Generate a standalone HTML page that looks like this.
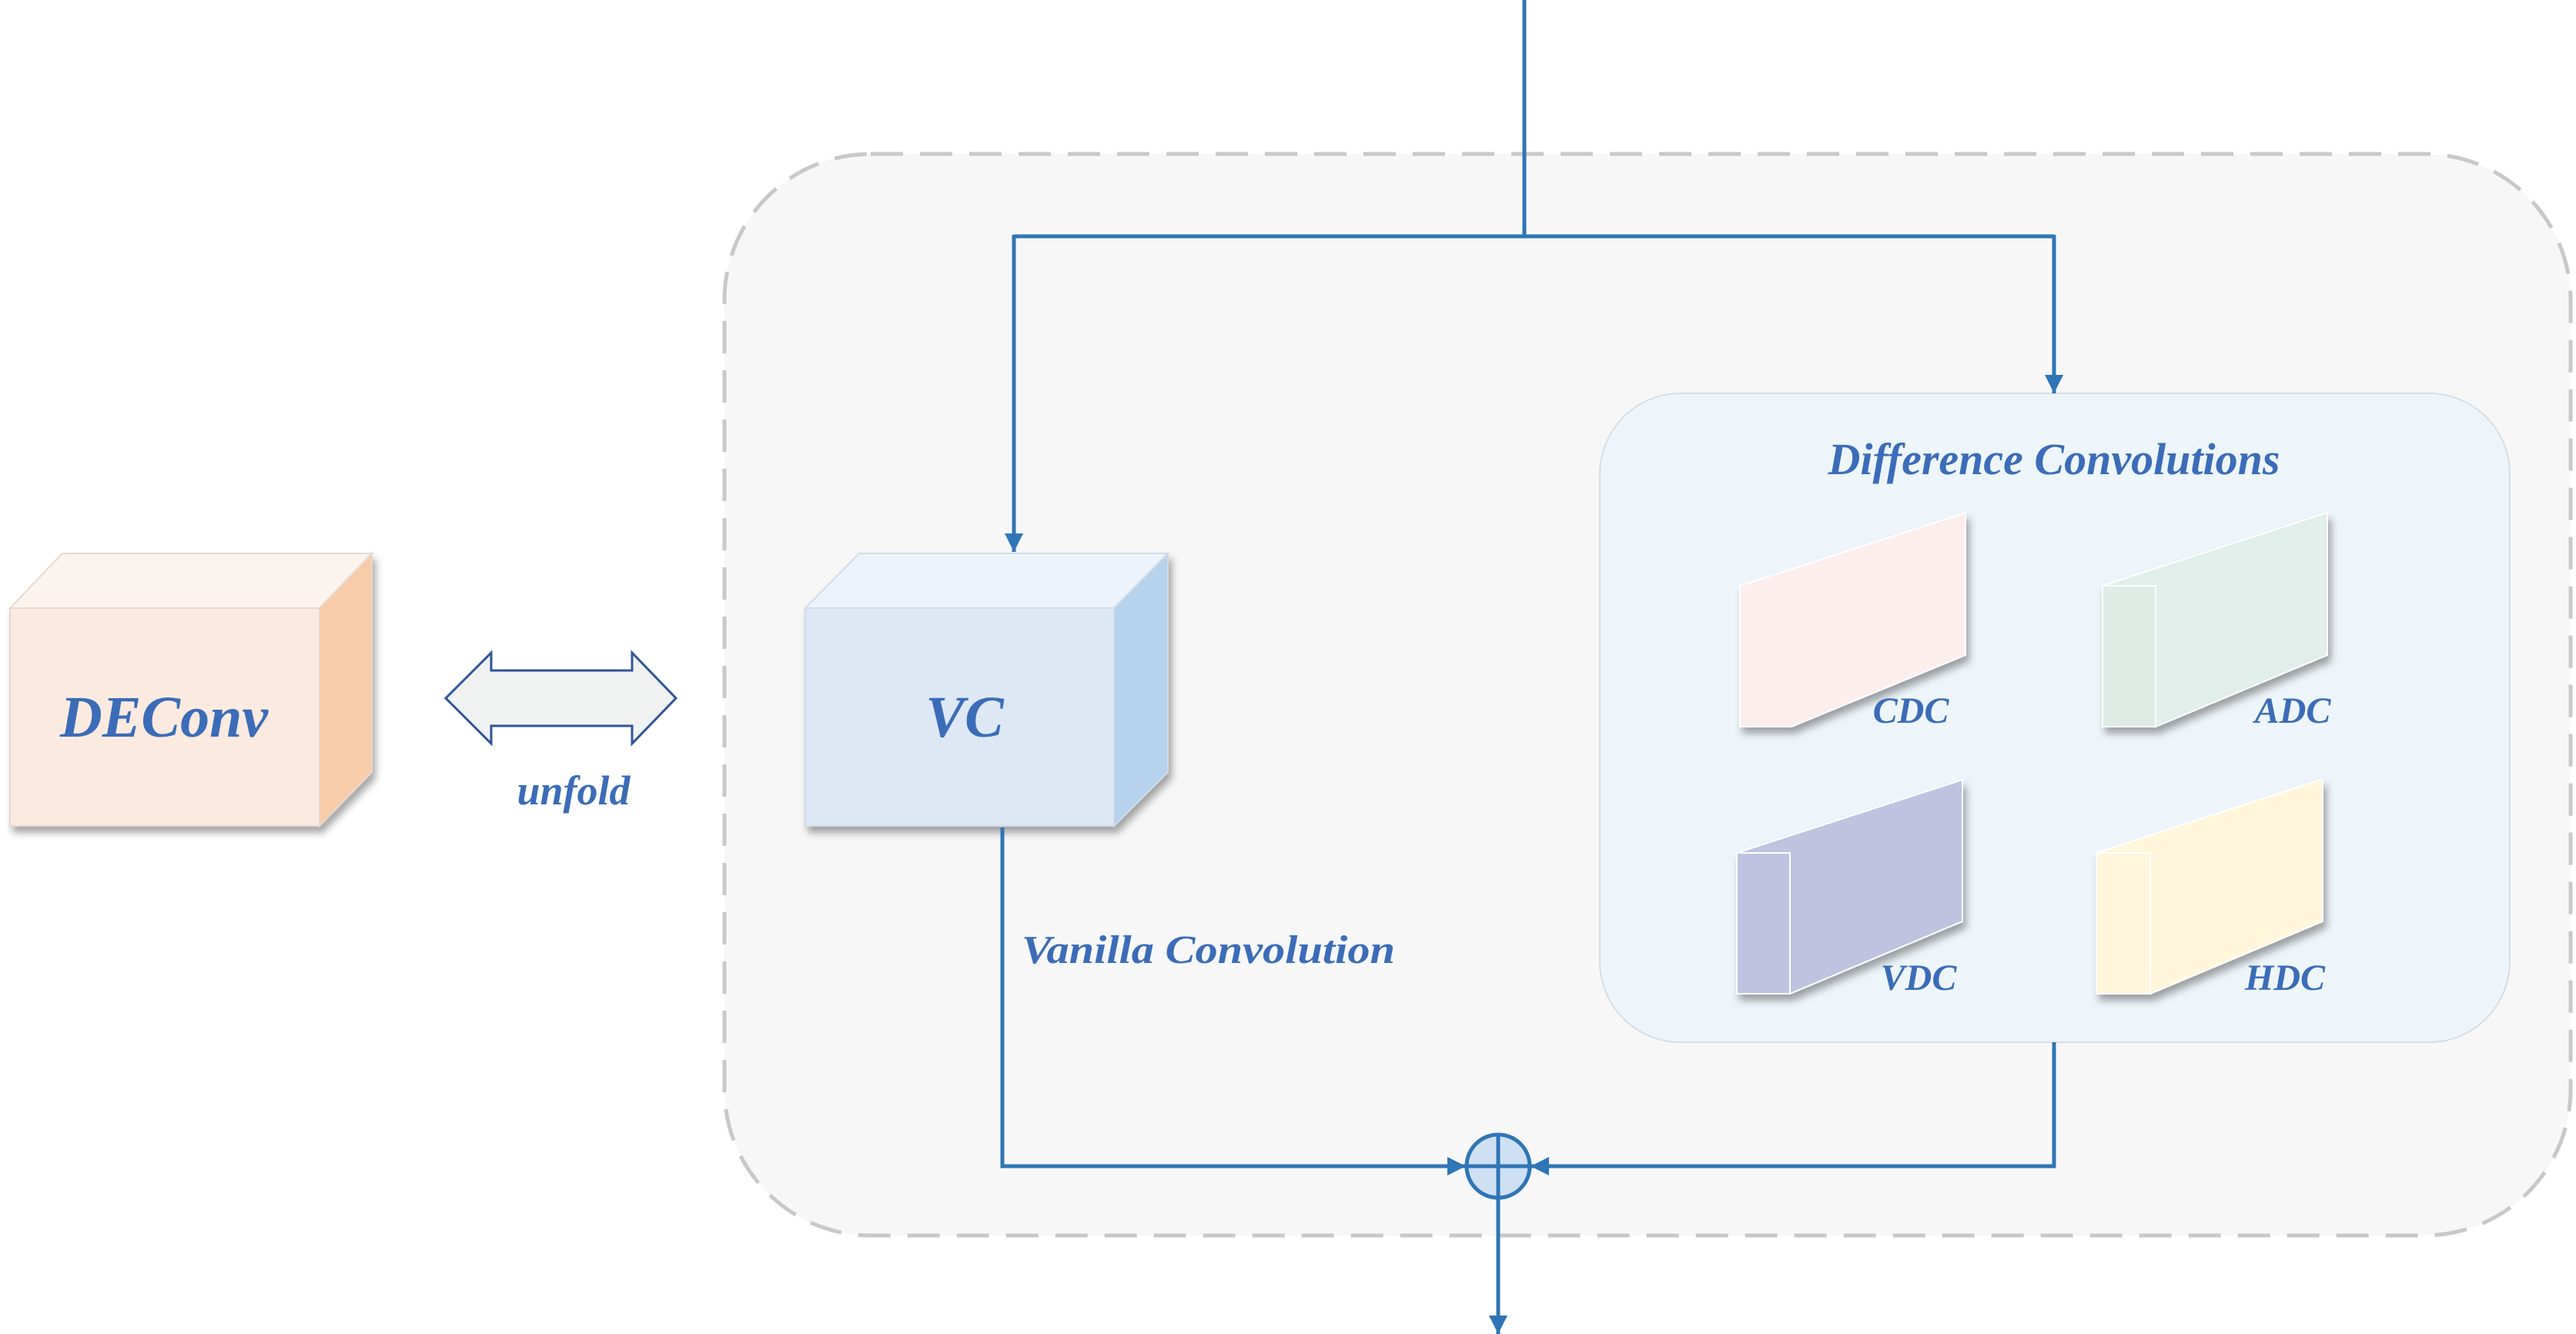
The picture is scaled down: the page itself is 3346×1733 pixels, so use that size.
<!DOCTYPE html>
<html><head><meta charset="utf-8"><style>
html,body{margin:0;padding:0;background:#fff;}
svg{display:block;}
text{font-family:"Liberation Serif",serif;font-weight:bold;font-style:italic;fill:#3b6cb7;}
</style></head><body>
<svg width="3346" height="1733" viewBox="0 0 3346 1733" xmlns="http://www.w3.org/2000/svg">
<defs>
<marker id="a" viewBox="0 0 10 10" refX="10" refY="5" markerWidth="26" markerHeight="24" orient="auto" markerUnits="userSpaceOnUse"><path d="M0,0 L10,5 L0,10 z" fill="#2e75b6"/></marker>
<filter id="sh" x="-10%" y="-10%" width="130%" height="130%"><feDropShadow dx="4" dy="8" stdDeviation="5" flood-color="#000" flood-opacity="0.35"/></filter>
</defs>
<rect x="941" y="200" width="2398" height="1405" rx="190" ry="190" fill="#f7f7f7" stroke="#c8c8c8" stroke-width="5" stroke-dasharray="42,22"/>
<rect x="2078" y="511" width="1182" height="843" rx="105" ry="105" fill="#eef5fa" stroke="#d6dde3" stroke-width="2"/>
<g filter="url(#sh)">
<polygon points="13,790 415,790 483,719 81,719" fill="#fbf3ee" stroke="#e6d8d0" stroke-width="2"/>
<polygon points="415,790 483,719 483,1003 415,1073" fill="#f8cca8" stroke="#e6d8d0" stroke-width="2"/>
<rect x="13" y="790" width="402" height="283" fill="#fbeadf" stroke="#e6d8d0" stroke-width="2"/>
</g>
<text x="213" y="957" font-size="76" text-anchor="middle">DEConv</text>
<polygon points="579,907 638,848 638,871 821,871 821,848 878,907 821,966 821,943 638,943 638,966" fill="#f0f1f1" stroke="#2f5597" stroke-width="3"/>
<text x="745" y="1045" font-size="54" text-anchor="middle">unfold</text>
<g filter="url(#sh)">
<polygon points="1046,790 1447,790 1517,719 1116,719" fill="#edf3fa" stroke="#cfdcea" stroke-width="2"/>
<polygon points="1447,790 1517,719 1517,1003 1447,1073" fill="#b6d2ec" stroke="#cfdcea" stroke-width="2"/>
<rect x="1046" y="790" width="401" height="283" fill="#dde8f4" stroke="#cfdcea" stroke-width="2"/>
</g>
<text x="1253" y="957" font-size="76" text-anchor="middle">VC</text>
<g filter="url(#sh)">
<polygon points="2260,761 2553,666 2553,851 2327,944 2260,944" fill="#fdeeee" stroke="#fff" stroke-width="2"/>
<polygon points="2731,761 2800,761 2800,944 2731,944" fill="#dfece6" stroke="#fff" stroke-width="2"/>
<polygon points="2731,761 3023,666 3023,851 2800,944 2800,761" fill="#e1eee9" stroke="#fff" stroke-width="2"/>
<polygon points="2256,1108 2325,1108 2325,1291 2256,1291" fill="#bfc3e0" stroke="#fff" stroke-width="2"/>
<polygon points="2256,1108 2549,1013 2549,1197 2325,1291 2325,1108" fill="#bfc3e0" stroke="#fff" stroke-width="2"/>
<polygon points="2723,1108 2793,1108 2793,1291 2723,1291" fill="#fff6dc" stroke="#fff" stroke-width="2"/>
<polygon points="2723,1108 3017,1012 3017,1197 2793,1291 2793,1108" fill="#fff6dc" stroke="#fff" stroke-width="2"/>
</g>
<text x="2668" y="616" font-size="58" text-anchor="middle">Difference Convolutions</text>
<text x="2482" y="939" font-size="48" text-anchor="middle">CDC</text>
<text x="2978" y="939" font-size="48" text-anchor="middle">ADC</text>
<text x="2492" y="1286" font-size="48" text-anchor="middle">VDC</text>
<text x="2968" y="1286" font-size="48" text-anchor="middle">HDC</text>
<text x="1327" y="1251" font-size="52" textLength="485" lengthAdjust="spacingAndGlyphs">Vanilla Convolution</text>
<g stroke="#2e75b6" stroke-width="5" fill="none">
<line x1="1980" y1="0" x2="1980" y2="307"/>
<polyline points="1317,307 2668,307"/>
<line x1="1317" y1="305" x2="1317" y2="717" marker-end="url(#a)"/>
<line x1="2668" y1="305" x2="2668" y2="511" marker-end="url(#a)"/>
<polyline points="1302,1075 1302,1515 1904,1515" marker-end="url(#a)"/>
<polyline points="2668,1354 2668,1515 1988,1515" marker-end="url(#a)"/>
<line x1="1946" y1="1557" x2="1946" y2="1733" marker-end="url(#a)"/>
</g>
<circle cx="1946" cy="1515" r="41" fill="#cfe0f3" stroke="#2e75b6" stroke-width="5"/>
<line x1="1905" y1="1515" x2="1987" y2="1515" stroke="#2e75b6" stroke-width="5"/>
<line x1="1946" y1="1474" x2="1946" y2="1556" stroke="#2e75b6" stroke-width="5"/>
</svg>
</body></html>
